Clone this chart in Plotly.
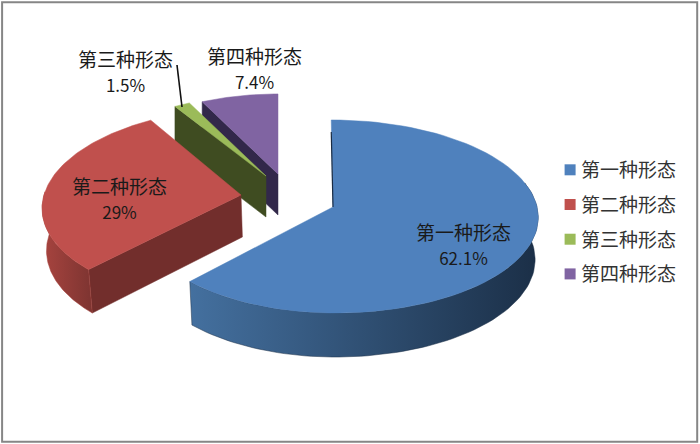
import math
import plotly.graph_objects as go

categories = ["第一种形态", "第二种形态", "第三种形态", "第四种形态"]
values = [62.1, 29, 1.5, 7.4]
value_labels = ["62.1%", "29%", "1.5%", "7.4%"]
top_colors = ["#4f81bd", "#c0504d", "#9bbb59", "#8064a2"]
wall_colors = [["#44709f", "#1b2f47"], ["#a8443f", "#7d3431"], ["#3f4d20", "#3f4d20"], ["#31274a", "#31274a"]]
cut_colors = [None, "#722e2c", "#3f4c21", "#32284a"]

# pie projection
RX_RIGHT, RY, K = 204.0, 95.6, 0.0985
RX_LEFT = [195.0, 197.0, 200.0, 200.0]
SHEAR = [0.02, -0.083, 0.0, 0.0]
CENTERS = [(333, 207), (241, 195), (266, 176), (278, 174)]
SCALES = [1.0, 1.0, 0.93, 0.92]
VIEW_X = 333


def rim(i, deg):
    a = math.radians(deg)
    X, Y = math.sin(a), math.cos(a)
    w = 1 + K * Y
    cx, cy = CENTERS[i]
    rx = RX_RIGHT if X > 0 else RX_LEFT[i]
    dy = -SCALES[i] * RY * Y / w
    return cx + SCALES[i] * rx * X / w + SHEAR[i] * dy, cy + dy


def drop(pt, deg=None):
    y_world = math.cos(math.radians(deg)) if deg is not None else 0
    return VIEW_X + (pt[0] - VIEW_X) * 0.985, pt[1] + 42 - 2 * y_world


def arc(i, a0, a1, n=80):
    return [rim(i, a0 + (a1 - a0) * t / n) for t in range(n + 1)]


def poly(pts, color, gradient=None):
    kw = dict(fillgradient=dict(type="horizontal", colorscale=[[0, gradient[0]], [1, gradient[1]]])) if gradient else dict(fillcolor=color)
    return go.Scatter(x=[p[0] for p in pts] + [pts[0][0]], y=[p[1] for p in pts] + [pts[0][1]],
                      mode="lines", fill="toself", line=dict(color=color, width=0.5),
                      showlegend=False, hoverinfo="skip", **kw)


total = sum(values)
starts, acc = [], 0.0
for v in values:
    starts.append(acc)
    acc += v * 360 / total

fig = go.Figure()

for i in [3, 2, 1, 0]:
    a0 = starts[i]
    a1 = a0 + values[i] * 360 / total
    apex = CENTERS[i]
    if i == 0:
        wall_from = 75
        t = arc(i, wall_from, a1)
        b = [drop(p, wall_from + (a1 - wall_from) * k / 80) for k, p in enumerate(t)]
        fig.add_trace(poly(t + b[::-1], wall_colors[0][1], wall_colors[0]))
    elif i == 1:
        r0 = rim(i, a0)
        fig.add_trace(poly([r0, apex, drop(apex), drop(r0, a0)], cut_colors[i]))
        t = arc(i, a0, 272)
        b = [drop(p, a0 + (272 - a0) * k / 80) for k, p in enumerate(t)]
        fig.add_trace(poly(t + b[::-1], wall_colors[1][0], wall_colors[1]))
    else:
        r0 = rim(i, a0)
        bot = (apex[0], apex[1] + 41)
        fig.add_trace(poly([r0, apex, bot, (r0[0], r0[1] + 41)], cut_colors[i]))
    fig.add_trace(poly([apex] + arc(i, a0, a1), top_colors[i]))
    if i == 0:
        r = rim(0, 0)
        fig.add_trace(go.Scatter(x=[r[0], apex[0]], y=[r[1] + 12, apex[1]], mode="lines",
                                 line=dict(color="#1a2c44", width=1.2), showlegend=False, hoverinfo="skip"))

# legend entries
for name, color in zip(categories, top_colors):
    fig.add_trace(go.Scatter(x=[None], y=[None], mode="markers", name=name, legendgroup=name,
                             marker=dict(symbol="square", size=11, color=color)))

# leader line for the third slice
fig.add_trace(go.Scatter(x=[177, 182], y=[65, 107], mode="lines", line=dict(color="#111111", width=1.6),
                         showlegend=False, hoverinfo="skip"))

label_xy = [(463, 243.5), (119, 198), (125, 70.5), (254, 67.5)]
for name, val, (x, y) in zip(categories, value_labels, label_xy):
    fig.add_annotation(x=x, y=y, xref="x", yref="y", showarrow=False, align="center",
                       text=f"{name}<br><span style='font-size:17px'>{val}</span>",
                       font=dict(size=19, color="#1a1a1a", family="Noto Sans CJK SC"))

fig.update_layout(
    width=700, height=444, margin=dict(l=0, r=0, t=0, b=0),
    paper_bgcolor="white", plot_bgcolor="white",
    xaxis=dict(range=[0, 700], visible=False, fixedrange=True),
    yaxis=dict(range=[444, 0], visible=False, fixedrange=True),
    font=dict(family="Noto Sans CJK SC", size=19, color="#333333"),
    legend=dict(x=0.773, y=0.66, xanchor="left", yanchor="top", tracegroupgap=7,
                bgcolor="rgba(0,0,0,0)", font=dict(size=19, color="#333333")),
    shapes=[dict(type="rect", xref="paper", yref="paper", x0=0.003, y0=0.005, x1=0.996, y1=0.995,
                 line=dict(color="#868686", width=2))],
)
fig.write_html(
    "out.html",
    config={"displayModeBar": False},
    post_script=(
        "document.body.style.margin='0';"
        "document.querySelectorAll('.legendsymbols').forEach(function(e){e.setAttribute('transform','translate(9,0)');});"
    ),
)
